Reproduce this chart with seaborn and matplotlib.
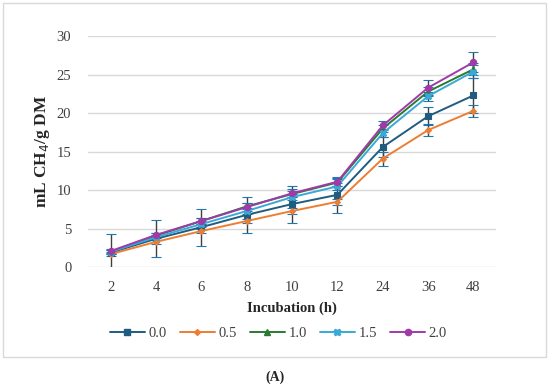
import pandas as pd
import numpy as np
import seaborn as sns
import matplotlib.pyplot as plt
from matplotlib.patches import Rectangle
from matplotlib.lines import Line2D

# --- data ---
hours = ["2", "4", "6", "8", "10", "12", "24", "36", "48"]
levels = ["0.0", "0.5", "1.0", "1.5", "2.0"]

ch4_00 = [1.9, 3.7, 5.2, 6.8, 8.2, 9.4, 15.6, 19.6, 22.3]
ch4_05 = [1.7, 3.3, 4.7, 6.0, 7.3, 8.5, 14.1, 17.8, 20.3]
ch4_10 = [2.0, 4.1, 6.0, 7.9, 9.5, 11.0, 18.0, 22.8, 25.7]
ch4_15 = [2.0, 3.9, 5.6, 7.3, 9.1, 10.5, 17.4, 22.2, 25.4]
ch4_20 = [2.1, 4.2, 6.0, 7.8, 9.6, 11.1, 18.4, 23.3, 26.6]

sd_00 = [2.4, 2.4, 2.4, 2.3, 2.4, 2.3, 1.3, 1.2, 2.3]
sd_05 = [0.3, 0.3, 0.3, 0.3, 0.4, 0.4, 0.9, 0.8, 0.8]
sd_10 = [0.3, 0.3, 0.4, 0.4, 0.4, 0.5, 0.5, 0.6, 0.8]
sd_15 = [0.3, 0.3, 0.4, 0.4, 0.4, 0.5, 0.5, 0.6, 0.8]
sd_20 = [0.3, 0.3, 0.4, 0.5, 0.5, 0.5, 0.6, 1.0, 1.3]

colors = ["#1f5c80", "#ed7d31", "#2a7a34", "#3aa9d6", "#a03aa8"]
markers = ["s", "D", "^", "X", "o"]
msizes = [4.5, 3, 4.5, 4.5, 4.5]

all_vals = [ch4_00, ch4_05, ch4_10, ch4_15, ch4_20]
all_sd = [sd_00, sd_05, sd_10, sd_15, sd_20]

df = pd.DataFrame({
    "hour": hours * len(levels),
    "level": np.repeat(levels, len(hours)),
    "ch4": np.concatenate(all_vals),
    "sd": np.concatenate(all_sd),
})

sns.set_style("white")
plt.rcParams["font.family"] = ["Liberation Serif", "DejaVu Serif"]

fig = plt.figure(figsize=(5.5, 3.84), dpi=100)
ax = fig.add_axes([0.16, 0.304, 0.742, 0.602])

# error bars first, lines on top
for lev in levels:
    d = df[df["level"] == lev]
    ax.errorbar(d["hour"], d["ch4"], yerr=d["sd"], fmt="none", ecolor="#404040",
                elinewidth=1.0, capsize=3.5, capthick=1.0, zorder=2)

sns.lineplot(data=df, x="hour", y="ch4", hue="level", style="level",
             palette=colors, markers=markers, dashes=False, sort=False,
             linewidth=1.4, markersize=4.5, ax=ax, legend=False, zorder=3)

# solid markers like the original (no white edge)
for ln in ax.get_lines():
    if ln.get_marker() not in (None, "None", ""):
        ln.set_markeredgecolor(ln.get_color())
        ln.set_markeredgewidth(0.8)
        if ln.get_marker() == "D":
            ln.set_markersize(3)

ax.set_xlim(-0.5, len(hours) - 0.5)
ax.set_ylim(0, 30)
ax.set_yticks(range(0, 31, 5))
ax.grid(axis="y", color="#d9d9d9", linewidth=1.0)
ax.set_axisbelow(True)
for s in ax.spines.values():
    s.set_visible(False)
ax.tick_params(axis="both", length=0, labelsize=10.5, colors="#404040")
ax.tick_params(axis="x", pad=10)
ax.tick_params(axis="y", pad=12)

ax.set_xlabel("Incubation (h)", fontsize=10.5, fontweight="bold", color="#262626", labelpad=5)
ax.set_ylabel("mL CH$_4$/g DM", fontsize=12.5, fontweight="bold", color="#262626", labelpad=3)

handles = [Line2D([], [], color=c, marker=m, markersize=ms, linewidth=1.4,
                  markeredgecolor=c)
           for c, m, ms in zip(colors, markers, msizes)]
fig.legend(handles, levels, loc="center", bbox_to_anchor=(0.506, 1 - 333 / 384),
           ncol=5, frameon=False, fontsize=10.5, handlelength=2.4,
           columnspacing=0.9, handletextpad=0.25, labelcolor="#404040")

# chart border and caption
fig.patches.append(Rectangle((3 / 550, 1 - 357 / 384), 543 / 550, 354 / 384,
                             transform=fig.transFigure, fill=False,
                             edgecolor="#d9d9d9", linewidth=1.0))
fig.text(0.5, 1 - 377 / 384, "(A)", ha="center", va="center", fontsize=10,
         fontweight="bold", color="#262626")

fig.savefig("out.png", dpi=100)
